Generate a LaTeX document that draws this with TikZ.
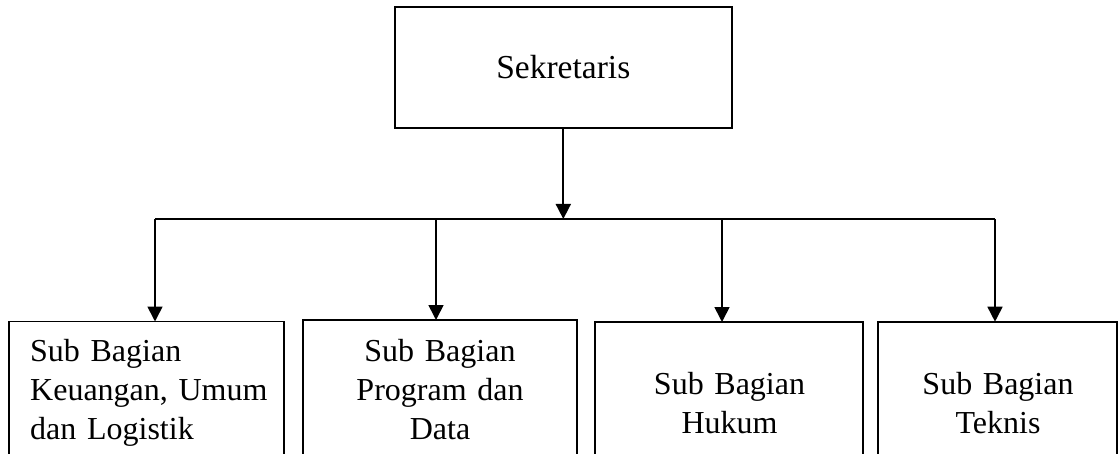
\documentclass[tikz,border=0pt]{standalone}
\usepackage{fontspec}
\setmainfont{Liberation Serif}
\usetikzlibrary{arrows.meta}
\begin{document}
\begin{tikzpicture}[x=1pt,y=-1pt,
  box/.style={draw, line width=1.8pt, inner sep=0pt, outer sep=0pt},
  conn/.style={line width=1.7pt},
  arr/.style={conn, -{Triangle[width=15pt,length=15pt]}},
  lbl/.style={inner sep=0pt, font=\fontsize{32}{39}\selectfont, text width=260pt}]
\clip (0,0) rectangle (1118,454);
% top box
\node[box, minimum width=336.7pt, minimum height=121pt,
      font=\fontsize{33.5}{40}\selectfont] (sek) at (563.3,67.5) {Sekretaris};
% lower boxes
\node[box, anchor=north west, minimum width=275pt, minimum height=200pt] (b1) at (9,321.5) {};
\node[box, anchor=north west, minimum width=273.7pt, minimum height=200pt] (b2) at (303,320) {};
\node[box, anchor=north west, minimum width=268.3pt, minimum height=200pt] (b3) at (595,322) {};
\node[box, anchor=north west, minimum width=239pt, minimum height=200pt] (b4) at (878,321.7) {};
% labels
\node[lbl, align=left, anchor=base west] (t1) at (30,361.7) {Sub Bagian\\Keuangan, Umum\\dan Logistik};
\node[lbl, align=center, anchor=base] (t2) at (440,361.7) {Sub Bagian\\Program dan\\Data};
\node[lbl, align=center, anchor=base] (t3) at (729.5,394) {Sub Bagian\\Hukum};
\node[lbl, align=center, anchor=base] (t4) at (998,394) {Sub Bagian\\Teknis};
% connectors
\path (sek.south) ++(0,91) coordinate (hub);
\coordinate (j1) at (155,219);
\coordinate (j2) at (436,219);
\coordinate (j3) at (722,219);
\coordinate (j4) at (995,219);
\draw[arr] (sek.south) -- (hub);
\draw[conn] (j1) -- (j4);
\draw[arr] (j1) -- (j1 |- b1.north);
\draw[arr] (j2) -- (j2 |- b2.north);
\draw[arr] (j3) -- (j3 |- b3.north);
\draw[arr] (j4) -- (j4 |- b4.north);
\end{tikzpicture}
\end{document}
